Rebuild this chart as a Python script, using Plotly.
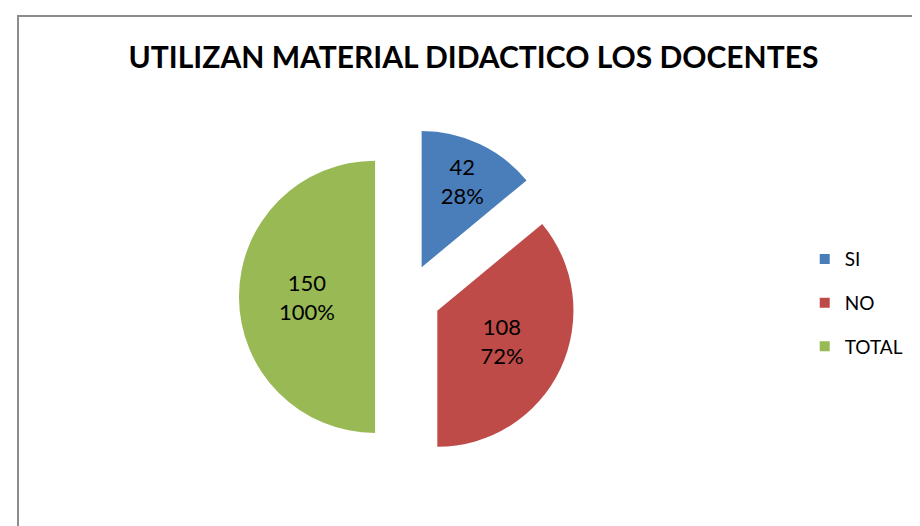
import plotly.graph_objects as go

labels = ['SI', 'NO', 'TOTAL']
values = [42, 108, 150]
percents = ['28%', '72%', '100%']
colors = ['#4A7EBB', '#BE4B48', '#98B954']

fig = go.Figure()

fig.add_trace(go.Pie(
    labels=labels,
    values=values,
    text=[f'{v}<br>{p}' for v, p in zip(values, percents)],
    textinfo='text',
    textposition='inside',
    insidetextorientation='horizontal',
    textfont=dict(family='Lato', size=22, color='black'),
    marker=dict(colors=colors, line=dict(color='white', width=0)),
    pull=[0.24, 0.24, 0.24],
    sort=False,
    direction='clockwise',
    rotation=0,
    showlegend=False,
    domain=dict(x=[0.251, 0.618], y=[0.13, 0.772]),
))

# legend entries (separate groups so the gap between rows matches)
for lab, col in zip(labels, colors):
    fig.add_trace(go.Scatter(
        x=[None], y=[None], mode='markers', name=lab,
        legendgroup=lab,
        marker=dict(symbol='square', size=10, color=col),
    ))

fig.update_layout(
    width=920, height=526,
    margin=dict(l=0, r=0, t=0, b=0),
    paper_bgcolor='white', plot_bgcolor='white',
    font=dict(family='Lato', color='black'),
    title=dict(text='<b>UTILIZAN MATERIAL DIDACTICO LOS DOCENTES</b>',
               x=0.506, xanchor='center', y=0.905, yanchor='middle',
               font=dict(family='Lato', size=30, color='black')),
    xaxis=dict(visible=False), yaxis=dict(visible=False),
    legend=dict(x=0.866, y=0.439, xanchor='left', yanchor='middle',
                font=dict(size=19), tracegroupgap=16,
                bgcolor='rgba(0,0,0,0)'),
    shapes=[dict(type='rect', xref='paper', yref='paper',
                 x0=10 / 920, x1=1.05, y0=-0.05, y1=1 - 8 / 526,
                 line=dict(color='#8C8C8C', width=2))],
)

fig.write_html('out.html')
